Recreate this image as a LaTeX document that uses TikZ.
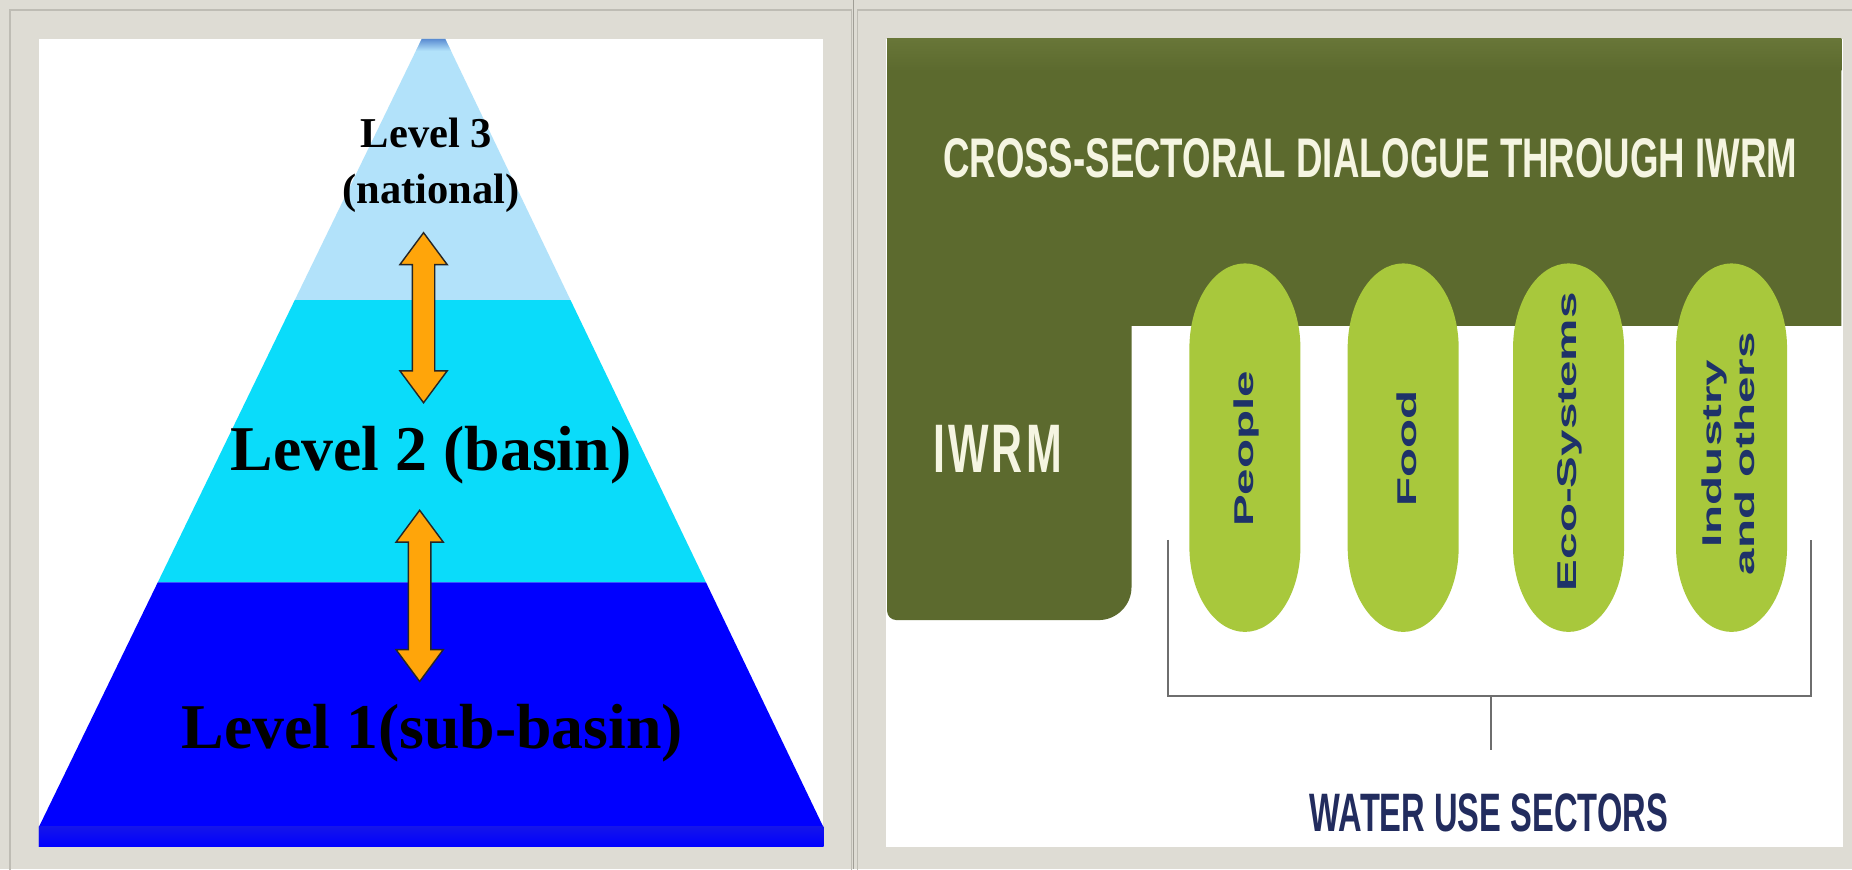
\documentclass[tikz,border=0pt]{standalone}
\usepackage{fontspec}
\setmainfont{Liberation Serif}
\newfontfamily\arialf{Liberation Sans}
\usepackage{graphicx}
\usetikzlibrary{calc}
\definecolor{framegray}{RGB}{222,220,212}
\definecolor{frameline}{RGB}{190,188,180}
\definecolor{sepline}{RGB}{160,158,150}
\definecolor{pyrtop}{RGB}{178,226,250}
\definecolor{pyrtip}{RGB}{90,140,210}
\definecolor{pyrmid}{RGB}{10,220,250}
\definecolor{pyrbot}{RGB}{0,0,255}
\definecolor{pyrbase}{RGB}{20,20,235}
\definecolor{arroworange}{RGB}{255,165,10}
\definecolor{olivedark}{RGB}{92,106,46}
\definecolor{olivelight}{RGB}{104,118,56}
\definecolor{pillgreen}{RGB}{168,200,60}
\definecolor{navytxt}{RGB}{30,50,105}
\definecolor{navytitle}{RGB}{34,44,94}
\definecolor{creamtxt}{RGB}{245,245,225}
\definecolor{bracketgray}{RGB}{110,110,110}
\begin{document}
\begin{tikzpicture}[x=1pt,y=-1pt,
  lvlsmall/.style={inner sep=0pt, text=black, font=\bfseries\fontsize{36}{44}\selectfont},
  lvlbig/.style={inner sep=0pt, text=black, font=\bfseries\fontsize{54}{60}\selectfont},
  dblarrow/.style={fill=arroworange, draw=black!85, line width=1.2pt, line join=miter},
  headtxt/.style={inner sep=0pt, text=creamtxt, font=\arialf\bfseries\fontsize{40}{48}\selectfont},
  pilltxt/.style={inner sep=0pt, rotate=90, text=navytxt, align=center, font=\arialf\bfseries\fontsize{23}{28}\selectfont},
  sectortxt/.style={inner sep=0pt, text=navytitle, font=\arialf\bfseries\fontsize{40}{48}\selectfont},
  bracketline/.style={draw=bracketgray, line width=1.8pt}
]
\useasboundingbox (0,0) rectangle (1568,736);
% frames
\fill[framegray] (0,0) rectangle (1568,736);
\draw[frameline, line width=1pt] (8.5,8.5) rectangle (721,740);
\draw[frameline, line width=1pt] (726,8.5) rectangle (1572,740);
\draw[sepline, line width=1.2pt] (722.5,0) -- (722.5,736);
\fill[white] (33,33) rectangle (697,717);
\fill[white] (750,33) rectangle (1560,717);

% ---------- left panel: pyramid ----------
\fill[pyrtop] (357,33) -- (377,33) -- (483,254) -- (249.6,254) -- cycle;
\shade[top color=pyrtip, bottom color=pyrtop] (357,33) -- (377,33) -- (381.8,43) -- (352.2,43) -- cycle;
\fill[pyrmid] (249.6,254) -- (483,254) -- (597.7,493) -- (133.6,493) -- cycle;
\fill[pyrbot] (133.6,493) -- (597.7,493) -- (697,700) -- (697,717) -- (33,717) -- (33,700) -- cycle;
\shade[top color=pyrbase, bottom color=pyrbot] (33,700) rectangle (697,717);

% double arrows
\coordinate (a1t) at (358.6,197);
\coordinate (a1b) at (358.6,341);
\coordinate (a2t) at (355.3,432);
\coordinate (a2b) at (355.3,577);
\draw[dblarrow] (a1t) -- ++(20,27) -- ++(-10.5,0) -- ($(a1b)+(9.5,-27)$) -- ++(10.5,0) -- (a1b)
  -- ++(-20,-27) -- ++(10.5,0) -- ($(a1t)+(-9.5,27)$) -- ++(-10.5,0) -- cycle;
\draw[dblarrow] (a2t) -- ++(20,27) -- ++(-10.5,0) -- ($(a2b)+(9.5,-27)$) -- ++(10.5,0) -- (a2b)
  -- ++(-20,-27) -- ++(10.5,0) -- ($(a2t)+(-9.5,27)$) -- ++(-10.5,0) -- cycle;

% level labels
\node[lvlsmall, anchor=base] (l3a) at (361,125) {Level 3};
\node[lvlsmall, anchor=base] (l3b) at (365,172) {(national)};
\node[lvlbig, anchor=base] (l2) at (365,398) {Level 2 (basin)};
\node[lvlbig, anchor=base] (l1) at (366,634) {Level 1(sub-basin)};

% ---------- right panel ----------
\fill[olivedark] (751,33) -- (1559,33) -- (1559,276) -- (958,276)
  [rounded corners=28] -- (958,525) [rounded corners=8] -- (751,525) [sharp corners] -- cycle;
\shade[top color=olivelight, bottom color=olivedark] (751,33) rectangle (1559,60);

\node[headtxt, anchor=base] (title) at (1160,150) {\resizebox{723pt}{33pt}{CROSS-SECTORAL DIALOGUE THROUGH IWRM}};
\node[headtxt, anchor=base] (iwrm) at (844.5,400) {\resizebox{109pt}{40pt}{I\kern3ptW\kern3ptR\kern3ptM}};

% pills
\foreach \cx in {1054,1188,1328,1466}{
  \fill[pillgreen] (\cx-47,295) arc[start angle=180, end angle=360, x radius=47, y radius=72]
    -- (\cx+47,463) arc[start angle=0, end angle=180, x radius=47, y radius=72] -- cycle;
}
\node[pilltxt] (people) at (1055,380) {\scalebox{1.75}[1]{People}};
\node[pilltxt] (food) at (1191,380) {\scalebox{1.75}[1]{Food}};
\node[pilltxt] (eco) at (1329,374) {\scalebox{1.75}[1]{Eco-Systems}};
\node[pilltxt] (industry) at (1463,384) {\scalebox{1.75}[1]{Industry}\\\scalebox{1.75}[1]{and others}};

% bracket
\coordinate (bl) at (989,457);
\coordinate (blc) at (989,589);
\coordinate (brc) at (1533,589);
\coordinate (br) at (1533,457);
\coordinate (bm) at (1262,589);
\coordinate (bs) at (1262,635);
\draw[bracketline] (bl) -- (blc) -- (brc) -- (br);
\draw[bracketline] (bm) -- (bs);

\node[sectortxt, anchor=base] (sectors) at (1260.5,704) {\resizebox{303pt}{32pt}{WATER USE SECTORS}};
\end{tikzpicture}
\end{document}
